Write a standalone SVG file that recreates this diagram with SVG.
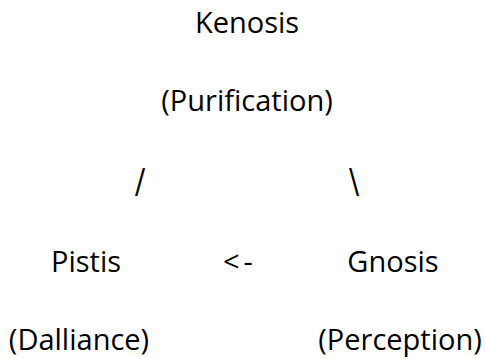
<svg xmlns="http://www.w3.org/2000/svg" width="486" height="359" viewBox="0 0 486 359">
<style>
text{font-family:"Open Sans","Noto Sans","DejaVu Sans",sans-serif;font-size:29px;fill:#000;text-anchor:middle}
</style>
<rect width="486" height="359" fill="#fff"/>
<g id="kenosis"><text x="247" y="33">Kenosis</text><text x="247" y="111">(Purification)</text></g>
<g id="connectors">
<g transform="translate(140,196) scale(1,1.3)"><text x="0" y="0">/</text></g>
<g transform="translate(354,196) scale(1,1.3)"><text x="0" y="0">\</text></g>
<text x="240" y="272" letter-spacing="4">&lt;-</text>
</g>
<g id="pistis"><text x="86" y="272">Pistis</text><text x="79" y="350">(Dalliance)</text></g>
<g id="gnosis"><text x="393" y="272">Gnosis</text><text x="400" y="350">(Perception)</text></g>
</svg>
